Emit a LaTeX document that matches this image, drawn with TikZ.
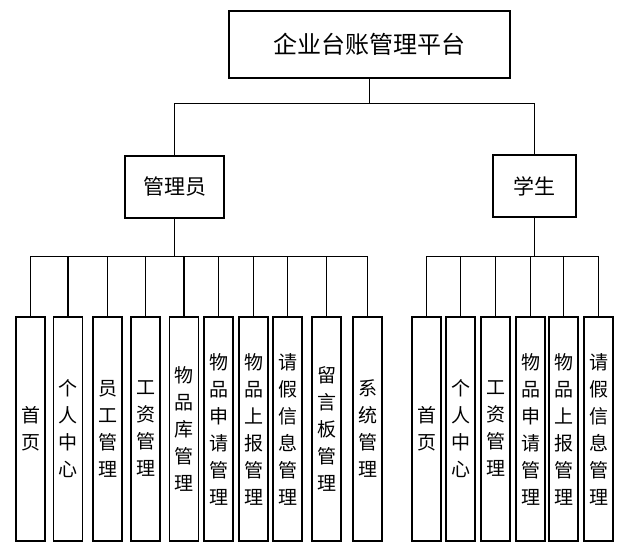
\documentclass[tikz,border=0pt]{standalone}
\usepackage{fontspec}
\setmainfont{Noto Sans CJK SC}
\usetikzlibrary{positioning}

\begin{document}
\begin{tikzpicture}[x=1pt, y=-1pt,
   rootbox/.style={rectangle, draw=black, line width=1.3pt, fill=white,
                   minimum width=281pt, minimum height=67pt, inner sep=0pt,
                   font=\fontsize{24}{28}\selectfont},
   rolebox/.style={rectangle, draw=black, line width=1.3pt, fill=white,
                   minimum height=62pt, inner sep=0pt,
                   font=\fontsize{21}{24}\selectfont},
   leafbox/.style={rectangle, draw=black, line width=1.3pt, fill=white,
                   minimum width=29pt, minimum height=224pt, inner sep=0pt,
                   align=center, font=\fontsize{19}{27}\selectfont},
   link/.style={draw=black, line width=1.5pt}]
\useasboundingbox (0,0) rectangle (623,550);

\node[rootbox] (root) at (369.5,44.5) {企业台账管理平台};

\node[rolebox, minimum width=99pt] (admin) at (174.5,187) {管理员};
\node[rolebox, minimum width=83pt] (student) at (534.5,186) {学生};

% admin leaves
\foreach \x/\t [count=\i] in {30.5/{首\\页}, 68/{个\\人\\中\\心},
    107.5/{员\\工\\管\\理}, 145.5/{工\\资\\管\\理},
    184/{物\\品\\库\\管\\理}, 218.5/{物\\品\\申\\请\\管\\理},
    253.5/{物\\品\\上\\报\\管\\理}, 287.5/{请\\假\\信\\息\\管\\理},
    326.5/{留\\言\\板\\管\\理}, 367.5/{系\\统\\管\\理}}
  \node[leafbox] (a\i) at (\x,429) {\t};

% student leaves
\foreach \x/\t [count=\i] in {426.5/{首\\页}, 460.5/{个\\人\\中\\心},
    495.5/{工\\资\\管\\理}, 530.5/{物\\品\\申\\请\\管\\理},
    563.5/{物\\品\\上\\报\\管\\理}, 598.5/{请\\假\\信\\息\\管\\理}}
  \node[leafbox] (s\i) at (\x,429) {\t};

\draw[link] (root.south) -- ++(0,25) coordinate (topBus);
\draw[link] (admin.north) |- (topBus) -| (student.north);

\draw[link] (admin.south) -- ++(0,38) coordinate (adminBus);
\draw[link] (a1.north) |- (adminBus) -| (a10.north);
\foreach \i in {2,...,9}
  \draw[link] (a\i.north) -- (a\i.north |- adminBus);

\draw[link] (student.south) -- ++(0,39) coordinate (studentBus);
\draw[link] (s1.north) |- (studentBus) -| (s6.north);
\foreach \i in {2,...,5}
  \draw[link] (s\i.north) -- (s\i.north |- studentBus);
\end{tikzpicture}
\end{document}
